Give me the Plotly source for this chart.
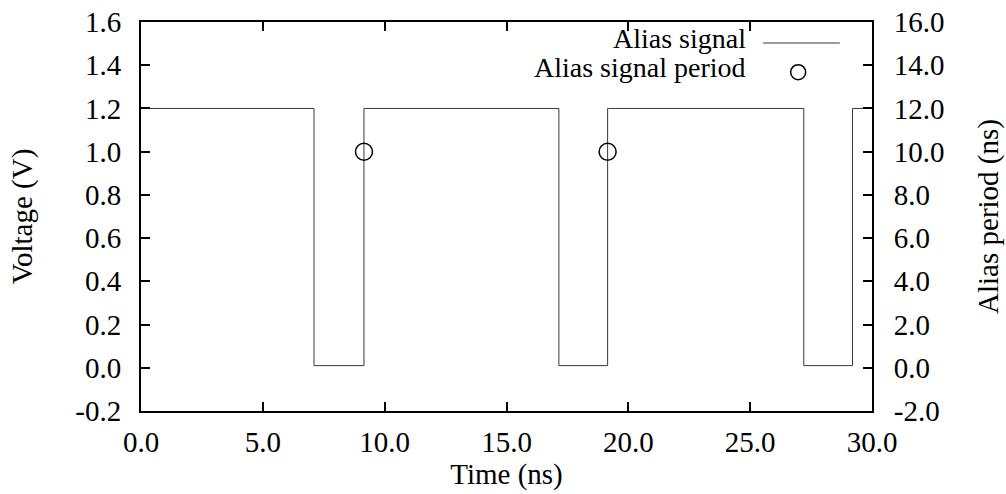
import plotly.graph_objects as go

# Data
signal_time = [0.0, 7.1, 7.1, 9.15, 9.15, 17.15, 17.15, 19.15, 19.15, 27.2, 27.2, 29.2, 29.2, 30.0]
signal_volt = [1.2, 1.2, 0.01, 0.01, 1.2, 1.2, 0.01, 0.01, 1.2, 1.2, 0.01, 0.01, 1.2, 1.2]
period_time = [9.15, 19.15]
period_ns = [10.0, 10.0]

x_ticks = [0, 5, 10, 15, 20, 25, 30]
x_ticktext = ["0.0", "5.0", "10.0", "15.0", "20.0", "25.0", "30.0"]
y_ticks = [-0.2, 0.0, 0.2, 0.4, 0.6, 0.8, 1.0, 1.2, 1.4, 1.6]
y_ticktext = ["-0.2", "0.0", "0.2", "0.4", "0.6", "0.8", "1.0", "1.2", "1.4", "1.6"]
y2_ticks = [-2, 0, 2, 4, 6, 8, 10, 12, 14, 16]
y2_ticktext = ["-2.0", "0.0", "2.0", "4.0", "6.0", "8.0", "10.0", "12.0", "14.0", "16.0"]

FONT = "Liberation Serif, Times New Roman, serif"
FS = 29
FS_LEG = 28

fig = go.Figure()
fig.add_trace(go.Scatter(x=signal_time, y=signal_volt, mode="lines",
                         line=dict(color="#3a3a3a", width=1), name="Alias signal",
                         showlegend=False))
fig.add_trace(go.Scatter(x=period_time, y=period_ns, mode="markers", yaxis="y2",
                         marker=dict(symbol="circle-open", size=17,
                                     line=dict(color="black", width=1.5), color="black"),
                         name="Alias signal period", showlegend=False))

axis_common = dict(showgrid=False, zeroline=False, showline=True, linecolor="black",
                   linewidth=2, ticks="inside", ticklen=9, tickwidth=1.5, tickcolor="black",
                   automargin=False,
                   tickfont=dict(family=FONT, size=FS, color="black"))

fig.update_layout(
    width=1006, height=494,
    margin=dict(l=141, r=134, t=22, b=83),
    paper_bgcolor="white", plot_bgcolor="white",
    font=dict(family=FONT, size=FS, color="black"),
    xaxis=dict(range=[0, 30], tickvals=x_ticks, ticktext=x_ticktext, mirror="ticks",
               title=dict(text="Time (ns)", font=dict(family=FONT, size=FS), standoff=6),
               ticklabelstandoff=4, **axis_common),
    yaxis=dict(range=[-0.2, 1.6], tickvals=y_ticks, ticktext=y_ticktext,
               title=dict(text="Voltage (V)", font=dict(family=FONT, size=FS), standoff=34),
               ticklabelstandoff=12, **axis_common),
    yaxis2=dict(range=[-2, 16], tickvals=y2_ticks, ticktext=y2_ticktext, overlaying="y",
                side="right",
                title=dict(text="Alias period (ns)", font=dict(family=FONT, size=FS), standoff=34),
                ticklabelstandoff=14, **axis_common),
    showlegend=False,
)

# Manual gnuplot-style legend (text on left, sample on right)
fig.add_annotation(x=0.831, y=0.958, xref="paper", yref="paper", text="Alias signal",
                   showarrow=False, xanchor="right", yanchor="middle",
                   font=dict(family=FONT, size=FS_LEG, color="black"))
fig.add_annotation(x=0.831, y=0.882, xref="paper", yref="paper", text="Alias signal period",
                   showarrow=False, xanchor="right", yanchor="middle",
                   font=dict(family=FONT, size=FS_LEG, color="black"))
fig.add_shape(type="line", xref="paper", yref="paper", x0=0.851, x1=0.956, y0=0.946, y1=0.946,
              line=dict(color="#3a3a3a", width=1))
fig.add_shape(type="circle", xref="paper", yref="paper", xsizemode="pixel", ysizemode="pixel",
              xanchor=0.899, yanchor=0.871, x0=-7.5, x1=7.5, y0=-7.5, y1=7.5,
              line=dict(color="black", width=1.5))

fig.write_html("out.html")
